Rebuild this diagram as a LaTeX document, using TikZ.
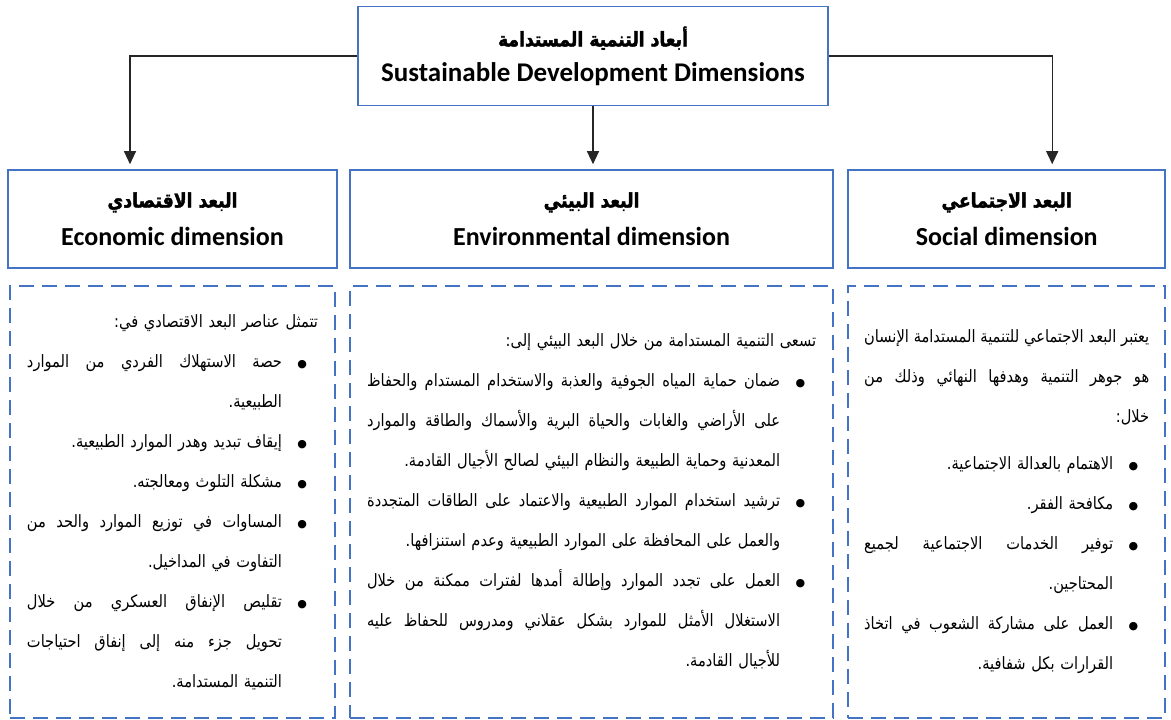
\documentclass[tikz,border=0pt]{standalone}
\usepackage{fontspec}
\usepackage{tikz}
\usetikzlibrary{positioning,arrows.meta}
\TeXXeTstate=1
\newfontfamily\arabicfont[Script=Arabic,FakeStretch=0.86]{DejaVu Sans}
\newfontfamily\arabichead[Script=Arabic,FakeStretch=0.86,FakeBold=2]{DejaVu Sans}
\newfontfamily\bulletfont{DejaVu Sans}
\newfontfamily\latinfont{Carlito}
\definecolor{boxblue}{RGB}{68,114,196}

% Right-to-left lines: ragged (r) or stretched to full width (j)
\newlength\bulletw
\setlength\bulletw{36pt}
\newcommand\liner[1]{\beginR#1\endR}
\newcommand\linej[1]{\makebox[\linewidth][s]{\spaceskip=\fontdimen2\font plus 1fil\relax\beginR#1\endR}}
\newcommand\dotmark{\makebox[\bulletw][l]{\hspace{11pt}{\bulletfont\fontsize{11}{11}\selectfont ●}}}
\newcommand\itemr[1]{\liner{\dotmark#1}}
\newcommand\itemj[1]{\linej{\dotmark#1}}
\newcommand\contr[1]{\liner{\kern\bulletw#1}}
\newcommand\contj[1]{\linej{\kern\bulletw#1}}
\newcommand\headar[1]{{\arabichead\fontsize{20}{20}\selectfont\liner{#1}}}

\tikzset{
  % Specifications for style of nodes:
  base/.style = {
    rectangle,
    draw=boxblue
  },
  dimension/.style = {
    base,
    line width=1.6pt,
    minimum height=98pt,
    align=center,
    font=\latinfont\bfseries\fontsize{26}{38}\selectfont
  },
  detail/.style = {
    base,
    line width=2pt,
    dash pattern=on 15pt off 8pt,
    minimum height=432pt,
    inner xsep=17pt,
    align=right,
    font=\arabicfont\fontsize{17}{40}\selectfont
  },
  link/.style = {
    draw=black!85,
    line width=1.2pt,
    shorten >=5pt,
    -{Triangle[length=13pt,width=12pt]}
  },
}

\begin{document}
\begin{tikzpicture}[x=1pt,y=-1pt]
    \useasboundingbox (0,0) rectangle (1171,720);
    % Specification of nodes (position, etc.)
    \node[dimension, minimum width=470pt, minimum height=99pt,
          font=\latinfont\bfseries\fontsize{27}{35}\selectfont] (dims) at (593,56)
      {\headar{أبعاد التنمية المستدامة}\\ Sustainable Development Dimensions};
    \node[dimension, minimum width=329pt] (econ) at (172.5,219)
      {\headar{البعد الاقتصادي}\\ Economic dimension};
    \node[dimension, minimum width=483pt, right=11.5pt of econ] (env)
      {\headar{البعد البيئي}\\ Environmental dimension};
    \node[dimension, minimum width=317pt, right=13.5pt of env] (soc)
      {\headar{البعد الاجتماعي}\\ Social dimension};

    \node[detail, minimum width=325pt, text width=291pt, below=16pt of econ] (econtxt) {
      \liner{تتمثل عناصر البعد الاقتصادي في:}\\
      \itemj{حصة الاستهلاك الفردي من الموارد}\\
      \contr{الطبيعية.}\\
      \itemr{إيقاف تبديد وهدر الموارد الطبيعية.}\\
      \itemr{مشكلة التلوث ومعالجته.}\\
      \itemj{المساوات في توزيع الموارد والحد من}\\
      \contr{التفاوت في المداخيل.}\\
      \itemj{تقليص الإنفاق العسكري من خلال}\\
      \contj{تحويل جزء منه إلى إنفاق احتياجات}\\
      \contr{التنمية المستدامة.}};
    \node[detail, minimum width=483pt, text width=449pt, below=16pt of env] (envtxt) {
      \liner{تسعى التنمية المستدامة من خلال البعد البيئي إلى:}\\
      \itemj{ضمان حماية المياه الجوفية والعذبة والاستخدام المستدام والحفاظ}\\
      \contj{على الأراضي والغابات والحياة البرية والأسماك والطاقة والموارد}\\
      \contr{المعدنية وحماية الطبيعة والنظام البيئي لصالح الأجيال القادمة.}\\
      \itemj{ترشيد استخدام الموارد الطبيعية والاعتماد على الطاقات المتجددة}\\
      \contr{والعمل على المحافظة على الموارد الطبيعية وعدم استنزافها.}\\
      \itemj{العمل على تجدد الموارد وإطالة أمدها لفترات ممكنة من خلال}\\
      \contj{الاستغلال الأمثل للموارد بشكل عقلاني ومدروس للحفاظ عليه}\\
      \contr{للأجيال القادمة.}};
    \node[detail, minimum width=317pt, text width=285pt, inner xsep=16pt, below=16pt of soc] (soctxt) {
      \linej{يعتبر البعد الاجتماعي للتنمية المستدامة الإنسان}\\
      \linej{هو جوهر التنمية وهدفها النهائي وذلك من}\\
      \liner{خلال:}\\[7pt]
      \itemr{الاهتمام بالعدالة الاجتماعية.}\\
      \itemr{مكافحة الفقر.}\\
      \itemj{توفير الخدمات الاجتماعية لجميع}\\
      \contr{المحتاجين.}\\
      \itemj{العمل على مشاركة الشعوب في اتخاذ}\\
      \contr{القرارات بكل شفافية.}};

    % connectors from the main box
    \draw[link] (dims.west) -| ([xshift=-42.5pt]econ.north);
    \draw[link] (dims.east) -| ([xshift=45.5pt]soc.north);
    \draw[link] (dims.south) -- (dims.south |- env.north);
  \end{tikzpicture}
\end{document}
